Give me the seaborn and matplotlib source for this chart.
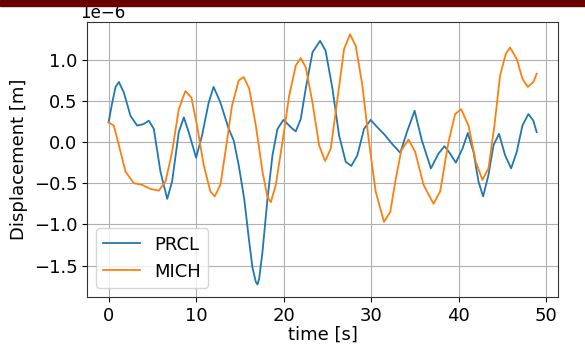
import matplotlib
matplotlib.use('Agg')
import matplotlib.pyplot as plt
import seaborn as sns
from matplotlib.patches import Rectangle

# Values (displacement in units of 1e-6 m)
prcl_t = [0, 0.42, 0.8, 1.18, 1.75, 2.5, 3.27, 4.03, 4.6, 5.17, 5.93, 6.7, 7.26,
          8.02, 8.6, 9.16, 10.0, 10.68, 11.44, 12.0, 12.78, 13.73, 14.3, 14.87,
          15.5, 16.07, 16.45, 16.83, 17.02, 17.21, 17.59, 18.16, 18.73, 19.3,
          19.99, 20.82, 21.39, 21.96, 22.53, 23.3, 24.17, 24.8, 25.58, 26.34,
          27.1, 27.74, 28.43, 29.19, 29.95, 30.71, 31.62, 32.38, 33.33, 34.09,
          34.97, 35.8, 36.83, 37.7, 38.39, 39.03, 39.68, 40.44, 41.05, 41.7,
          42.27, 42.8, 43.41, 43.98, 44.62, 45.31, 46.0, 46.64, 47.29, 47.97,
          48.54, 48.92]
prcl_v = [0.24, 0.48, 0.67, 0.73, 0.60, 0.32, 0.20, 0.22, 0.26, 0.16, -0.36, -0.69, -0.48,
          0.12, 0.30, 0.12, -0.19, 0.08, 0.48, 0.67, 0.48, 0.16, 0.02, -0.28,
          -0.69, -1.21, -1.53, -1.70, -1.73, -1.66, -1.33, -0.69, -0.16, 0.16,
          0.27, 0.18, 0.13, 0.28, 0.65, 1.09, 1.23, 1.11, 0.65, 0.08,
          -0.24, -0.29, -0.16, 0.16, 0.27, 0.18, 0.08, -0.02, -0.13, 0.12,
          0.38, 0.02, -0.32, -0.14, -0.05, -0.14, -0.25, -0.08, 0.11, -0.12,
          -0.48, -0.66, -0.40, -0.04, 0.10, -0.16, -0.32, -0.12, 0.20, 0.34,
          0.26, 0.12]

mich_t = [0, 0.6, 1.18, 1.94, 2.89, 3.84, 4.79, 5.74, 6.5, 7.26, 8.02, 8.78, 9.47,
          10.11, 10.87, 11.63, 12.13, 12.78, 13.35, 14.1, 14.87, 15.44, 16.07,
          16.83, 17.59, 18.16, 18.54, 19.11, 19.87, 20.63, 21.39, 21.96, 22.53,
          23.3, 24.06, 24.74, 25.39, 26.15, 26.91, 27.59, 28.24, 29.0, 29.76,
          30.52, 31.47, 32.19, 32.76, 33.45, 34.28, 35.04, 35.99, 37.13, 37.89,
          38.84, 39.6, 40.29, 41.13, 41.96, 42.72, 43.41, 44.09, 44.74, 45.38,
          45.88, 46.64, 47.29, 47.9, 48.54, 48.92]
mich_v = [0.24, 0.20, -0.04, -0.36, -0.50, -0.52, -0.57, -0.59, -0.48, -0.12, 0.40, 0.62, 0.54,
          0.20, -0.28, -0.60, -0.66, -0.52, -0.12, 0.44, 0.75, 0.79, 0.65,
          0.20, -0.36, -0.67, -0.73, -0.52, 0.0, 0.56, 0.93, 1.02, 0.91,
          0.48, -0.04, -0.23, -0.08, 0.52, 1.13, 1.31, 1.17, 0.69, 0.0,
          -0.60, -0.97, -0.85, -0.48, -0.10, 0.03, -0.12, -0.52, -0.75, -0.60,
          0.0, 0.34, 0.40, 0.20, -0.24, -0.46, -0.32, 0.20, 0.81, 1.07,
          1.15, 1.01, 0.77, 0.67, 0.73, 0.83]

plt.rcParams['font.size'] = 13

fig, ax = plt.subplots(figsize=(5.85, 3.51), dpi=100)
fig.subplots_adjust(left=0.149, right=0.954, top=0.938, bottom=0.154)

sns.lineplot(x=prcl_t, y=[v * 1e-6 for v in prcl_v], ax=ax, label='PRCL',
             color='#1f77b4', linewidth=1.3)
sns.lineplot(x=mich_t, y=[v * 1e-6 for v in mich_v], ax=ax, label='MICH',
             color='#ff7f0e', linewidth=1.3)

ax.grid(True, color='#b0b0b0', linewidth=0.8)
ax.set_xlabel('time [s]', labelpad=1)
ax.set_ylabel('Displacement [m]')
ax.set_xticks([0, 10, 20, 30, 40, 50])
ax.legend(loc='lower left')
for s in ax.spines.values():
    s.set_color('#333333')

off = ax.yaxis.get_offset_text()
off.set_fontsize(12)
off.set_x(-0.016)

# dark red band at the top of the slide
fig.patches.append(Rectangle((0, 1 - 6 / 351), 1, 6 / 351, transform=fig.transFigure,
                             color='#6b0000', zorder=10))

fig.savefig('out.png', dpi=100)
